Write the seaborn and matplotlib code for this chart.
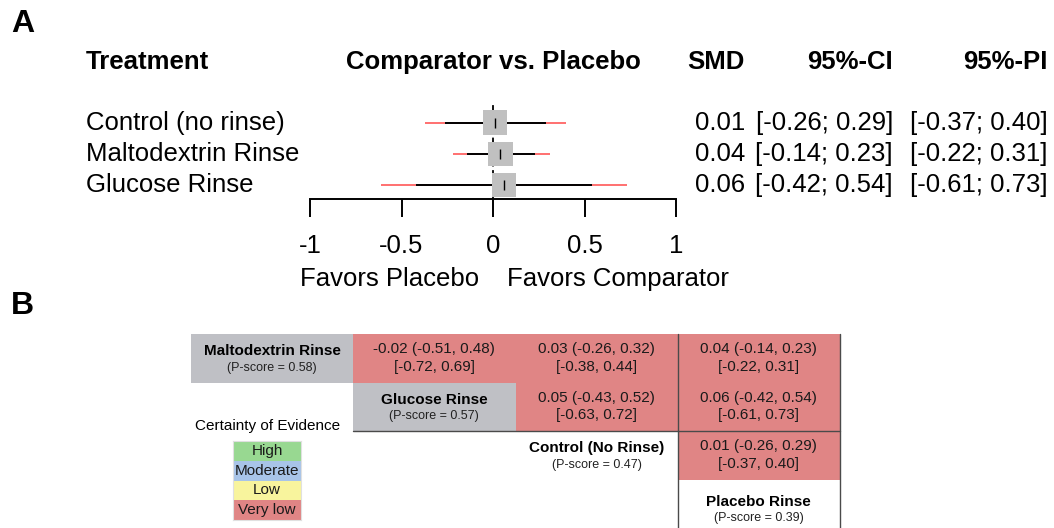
import numpy as np
import pandas as pd
import matplotlib
matplotlib.use("Agg")
import matplotlib.pyplot as plt
from matplotlib.colors import ListedColormap
import seaborn as sns

# ---- Panel A: pairwise comparisons against placebo ----
treatments = ["Control (no rinse)", "Maltodextrin Rinse", "Glucose Rinse"]
smd = [0.01, 0.04, 0.06]
ci_lo = [-0.26, -0.14, -0.42]
ci_hi = [0.29, 0.23, 0.54]
pi_lo = [-0.37, -0.22, -0.61]
pi_hi = [0.40, 0.31, 0.73]
x_ticks = [-1, -0.5, 0, 0.5, 1]
x_ticklabels = ["-1", "-0.5", "0", "0.5", "1"]

# ---- Panel B: league table ----
league_names = ["Maltodextrin Rinse", "Glucose Rinse", "Control (No Rinse)", "Placebo Rinse"]
league_pscores = [0.58, 0.57, 0.47, 0.39]
# upper-triangle entries: (row, col, estimate, ci low, ci high, pi low, pi high)
league_rows = [0, 0, 0, 1, 1, 2]
league_cols = [1, 2, 3, 2, 3, 3]
league_est = [-0.02, 0.03, 0.04, 0.05, 0.06, 0.01]
league_ci_lo = [-0.51, -0.26, -0.14, -0.43, -0.42, -0.26]
league_ci_hi = [0.48, 0.32, 0.23, 0.52, 0.54, 0.29]
league_pi_lo = [-0.72, -0.38, -0.22, -0.63, -0.61, -0.37]
league_pi_hi = [0.69, 0.44, 0.31, 0.72, 0.73, 0.40]
league_certainty = ["Very low"] * 6
name_cell_fill = ["grey", "grey", "white", "white"]

certainty_levels = ["High", "Moderate", "Low", "Very low"]
certainty_colors = ["#98d891", "#a8c4e8", "#f8f49d", "#e08585"]

W, H = 1054, 528
FS = 18.5       # panel A text size
FS_TAB = 11     # league table text size
FS_PS = 9       # P-score size

sns.set_theme(style="white")
plt.rcParams["font.family"] = ["Liberation Sans", "DejaVu Sans"]
plt.rcParams["text.color"] = "black"
plt.rcParams["xtick.color"] = "black"

fig = plt.figure(figsize=(W / 100, H / 100), dpi=100)


def box(x0, y0, x1, y1):
    return [x0 / W, 1 - y1 / H, (x1 - x0) / W, (y1 - y0) / H]


def ftext(x, y, s, **kw):
    fig.text(x / W, 1 - y / H, s, transform=fig.transFigure, **kw)


# Panel letters
ftext(11, 24, "A", fontsize=23, fontweight="bold", va="center", ha="left")
ftext(11, 306, "B", fontsize=23, fontweight="bold", va="center", ha="left")

# ---- forest plot ----
ax = fig.add_axes(box(310, 104, 676, 199))
df = pd.DataFrame({"treatment": treatments, "smd": smd, "row": range(len(treatments))})

ax.axvline(0, color="black", lw=1.3, ls=(0, (4, 2)), zorder=1)
ax.hlines(df["row"], pi_lo, pi_hi, color="#ff7070", lw=1.4, zorder=2)
ax.hlines(df["row"], ci_lo, ci_hi, color="black", lw=1.4, zorder=3)
sns.scatterplot(data=df, x="smd", y="row", marker="s", s=310, color="#c0c0c0",
                edgecolor="none", linewidth=0, ax=ax, zorder=4, legend=False)
ax.scatter(df["smd"], df["row"], marker="|", s=45, color="black", linewidths=1.0, zorder=5)

ax.set_xlim(-1, 1)
ax.set_ylim(2.45, -0.6)
ax.set_xticks(x_ticks)
ax.set_xticklabels(x_ticklabels, fontsize=FS, color="black")
ax.set_yticks([])
ax.set_xlabel("")
ax.set_ylabel("")
for side in ["top", "left", "right"]:
    ax.spines[side].set_visible(False)
ax.spines["bottom"].set_color("black")
ax.spines["bottom"].set_linewidth(1.4)
ax.tick_params(axis="x", direction="out", length=13, width=1.4, color="black",
               pad=12, bottom=True, labelcolor="black")
ax.patch.set_alpha(0)

ax.text(-0.075, -0.84, "Favors Placebo", transform=ax.get_xaxis_transform(),
        ha="right", va="center", fontsize=FS)
ax.text(0.075, -0.84, "Favors Comparator", transform=ax.get_xaxis_transform(),
        ha="left", va="center", fontsize=FS)

# column headers
hdr_y = 62
ftext(86, hdr_y, "Treatment", fontsize=FS, fontweight="bold", va="center", ha="left")
ftext(493, hdr_y, "Comparator vs. Placebo", fontsize=FS, fontweight="bold", va="center", ha="center")
ftext(745, hdr_y, "SMD", fontsize=FS, fontweight="bold", va="center", ha="right")
ftext(893, hdr_y, "95%-CI", fontsize=FS, fontweight="bold", va="center", ha="right")
ftext(1048, hdr_y, "95%-PI", fontsize=FS, fontweight="bold", va="center", ha="right")

# row labels and numeric columns, placed on the forest rows
ytr = ax.transData
for i, name in enumerate(treatments):
    _, ydisp = ytr.transform((0, i))
    yfig = ydisp / fig.bbox.height
    fig.text(86 / W, yfig, name, fontsize=FS, va="center", ha="left")
    fig.text(745 / W, yfig, f"{smd[i]:.2f}", fontsize=FS, va="center", ha="right")
    fig.text(893 / W, yfig, f"[{ci_lo[i]:.2f}; {ci_hi[i]:.2f}]", fontsize=FS, va="center", ha="right")
    fig.text(1048 / W, yfig, f"[{pi_lo[i]:.2f}; {pi_hi[i]:.2f}]", fontsize=FS, va="center", ha="right")

# ---- league table ----
n = len(league_names)
codes = np.zeros((n, n))
mask = np.ones((n, n), dtype=bool)
fill_code = {"white": 0, "grey": 1}
for i in range(n):
    codes[i, i] = fill_code[name_cell_fill[i]]
    mask[i, i] = False
for r, c, cert in zip(league_rows, league_cols, league_certainty):
    codes[r, c] = 2 if cert == "Very low" else 0
    mask[r, c] = False

bx = fig.add_axes(box(191, 334, 840, 528))
sns.heatmap(codes, mask=mask, cmap=ListedColormap(["#ffffff", "#bfc0c5", "#e08585"]),
            vmin=-0.5, vmax=2.5, cbar=False, xticklabels=False, yticklabels=False,
            linewidths=0, ax=bx)
bx.set_xlim(0, n)
bx.set_ylim(n, 0)

line_kw = dict(color="#4a4a4a", lw=1.0, zorder=5, clip_on=False)
bx.plot([3, 3], [0, n], **line_kw)
bx.plot([4, 4], [0, n], **line_kw)
bx.plot([1, 4], [2, 2], **line_kw)

for i, (name, ps) in enumerate(zip(league_names, league_pscores)):
    dy = 0.1 if i == n - 1 else 0.0
    bx.text(i + 0.5, i + 0.36 + dy, name, ha="center", va="center",
            fontsize=FS_TAB, fontweight="bold", color="black")
    bx.text(i + 0.5, i + 0.70 + dy, f"(P-score = {ps:.2f})", ha="center", va="center",
            fontsize=FS_PS, color="#222222")

for r, c, e, cl, ch, pl, ph in zip(league_rows, league_cols, league_est, league_ci_lo,
                                    league_ci_hi, league_pi_lo, league_pi_hi):
    bx.text(c + 0.5, r + 0.31, f"{e:.2f} ({cl:.2f}, {ch:.2f})", ha="center", va="center",
            fontsize=FS_TAB, color="#1a1a1a")
    bx.text(c + 0.5, r + 0.68, f"[{pl:.2f}, {ph:.2f}]", ha="center", va="center",
            fontsize=FS_TAB, color="#1a1a1a")

# ---- certainty legend ----
ftext(268, 426, "Certainty of Evidence", fontsize=FS_TAB, ha="center", va="center")
lx = fig.add_axes(box(233, 441, 301, 520))
sns.heatmap(np.arange(4).reshape(4, 1), cmap=ListedColormap(certainty_colors),
            vmin=-0.5, vmax=3.5, cbar=False, xticklabels=False, yticklabels=False,
            linewidths=0, ax=lx)
for k, lvl in enumerate(certainty_levels):
    lx.text(0.5, k + 0.5, lvl, ha="center", va="center", fontsize=FS_TAB, color="#1a1a1a")
for side in lx.spines.values():
    side.set_visible(True)
    side.set_color("#e0e0e0")
    side.set_linewidth(0.8)

fig.savefig("out.png", dpi=100)
